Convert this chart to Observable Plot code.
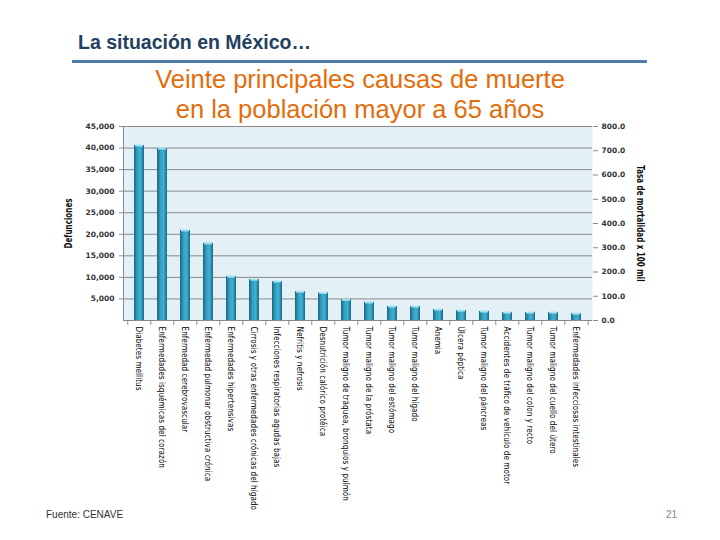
<!DOCTYPE html>
<html>
<head>
<meta charset="utf-8">
<script src="https://cdn.jsdelivr.net/npm/d3@7"></script>
<script src="https://cdn.jsdelivr.net/npm/@observablehq/plot@0.6"></script>
<style>
  body { margin: 0; background: #fff; width: 720px; height: 540px; position: relative; overflow: hidden; font-family: "Liberation Sans", Arial, sans-serif; }
  #title { position: absolute; left: 78px; top: 31px; font-size: 19.5px; line-height: 22px; color: #243f60; font-weight: bold; }
  #rule { position: absolute; left: 72px; top: 60px; width: 575px; height: 3px; background: #4f7bab; }
  #subtitle { position: absolute; left: 0; width: 720px; top: 64px; text-align: center; font-size: 25.5px; line-height: 30px; color: #e46c0a; z-index: 2; }
  #chart { position: absolute; left: 0; top: 120px; }
  #source { position: absolute; left: 46px; top: 509px; font-size: 10px; color: #333; }
  #page { position: absolute; left: 666px; top: 509px; font-size: 10px; color: #888; }
</style>
</head>
<body>
<div id="title">La situación en México…</div>
<div id="rule"></div>
<div id="subtitle">Veinte principales causas de muerte<br>en la población mayor a 65 años</div>
<div id="chart"></div>
<div id="source">Fuente: CENAVE</div>
<div id="page">21</div>
<script>
const categories = [
  "Diabetes mellitus",
  "Enfermedades isquémicas del corazón",
  "Enfermedad cerebrovascular",
  "Enfermedad pulmonar obstructiva crónica",
  "Enfermedades hipertensivas",
  "Cirrosis y otras enfermedades crónicas del hígado",
  "Infecciones respiratorias agudas bajas",
  "Nefritis y nefrosis",
  "Desnutrición calórico protéica",
  "Tumor maligno de tráquea, bronquios y pulmón",
  "Tumor maligno de la próstata",
  "Tumor maligno del estómago",
  "Tumor maligno del hígado",
  "Anemia",
  "Úlcera péptica",
  "Tumor maligno del páncreas",
  "Accidentes de tráfico de vehículo de motor",
  "Tumor maligno del colon y recto",
  "Tumor maligno del cuello del útero",
  "Enfermedades infecciosas intestinales"
];
const deaths = [40600, 39900, 20900, 17900, 10200, 9500, 9050, 6700, 6400, 4800, 4200, 3250, 3250, 2550, 2300, 2100, 1850, 1850, 1850, 1600];
const leftTicks = [5000, 10000, 15000, 20000, 25000, 30000, 35000, 40000, 45000];
const rateTicks = [0, 100, 200, 300, 400, 500, 600, 700, 800];
const leftMax = 45000;
const rateMax = 800;
const yTitle = "Defunciones";
const y2Title = "Tasa de mortalidad x 100 mil";

const data = categories.map((c, i) => ({cause: c, deaths: deaths[i]}));

const W = 720, H = 392, ml = 123, mr = 128, mt = 6, mb = 192;
const step = (W - ml - mr) / categories.length;
const tickFont = "DejaVu Sans, Verdana, sans-serif";
const narrow = "Liberation Sans Narrow, DejaVu Sans Condensed, sans-serif";

const chart = Plot.plot({
  width: W, height: H,
  marginLeft: ml, marginRight: mr, marginTop: mt, marginBottom: mb,
  style: {background: "transparent", overflow: "visible"},
  x: {domain: categories, paddingInner: 0.57, paddingOuter: 0.285, axis: null},
  y: {domain: [0, leftMax], axis: null},
  marks: [
    Plot.frame({fill: "#e3f0f6", stroke: null}),
    Plot.ruleY(leftTicks, {stroke: "#8a8a8a", strokeWidth: 1}),
    Plot.barY(data, {x: "cause", y: "deaths", fill: "url(#barGrad)"}),
    Plot.tickY(data, {x: "cause", y: "deaths", stroke: "#a4e4f4", strokeWidth: 2, insetLeft: 1, insetRight: 1}),
    Plot.ruleY([0], {stroke: "#8a8a8a"}),
    Plot.frame({anchor: "left", stroke: "#8a8a8a"}),
    Plot.axisY(leftTicks, {anchor: "left", tickSize: 4, tickPadding: 5, tickFormat: d3.format(","), label: null,
      fontFamily: tickFont, fontSize: 7.5, fontWeight: "bold", fill: "#333", stroke: "#8a8a8a"}),
    Plot.axisY(rateTicks.map(v => v * leftMax / rateMax), {anchor: "right", tickSize: 5, tickPadding: 4,
      tickFormat: d => (d * rateMax / leftMax).toFixed(1), label: null,
      fontFamily: tickFont, fontSize: 7.5, fontWeight: "bold", fill: "#333", stroke: "#8a8a8a"}),
    Plot.axisX({anchor: "bottom", tickSize: 0, tickRotate: 90, tickPadding: 6, label: null,
      fontFamily: narrow, fontSize: 9.5, fill: "#000"}),
    Plot.axisX({anchor: "bottom", tickSize: 5, tickFormat: () => "", dx: -step / 2, label: null, stroke: "#8a8a8a"}),
    Plot.axisX([categories[categories.length - 1]], {anchor: "bottom", tickSize: 5, tickFormat: () => "", dx: step / 2, label: null, stroke: "#8a8a8a"}),
    Plot.text([yTitle], {frameAnchor: "left", rotate: -90, dx: -55, textAnchor: "middle", fontFamily: narrow, fontSize: 10.5, fontWeight: "bold", fill: "#111"}),
    Plot.text([y2Title], {frameAnchor: "right", rotate: 90, dx: 48, textAnchor: "middle", fontFamily: narrow, fontSize: 10.5, fontWeight: "bold", fill: "#111"})
  ]
});

const ns = "http://www.w3.org/2000/svg";
const defs = document.createElementNS(ns, "defs");
const grad = document.createElementNS(ns, "linearGradient");
grad.setAttribute("id", "barGrad");
grad.setAttribute("x1", "0"); grad.setAttribute("x2", "1");
grad.setAttribute("y1", "0"); grad.setAttribute("y2", "0");
[["0", "#1a6580"], ["0.35", "#35a0c2"], ["0.65", "#40b0d2"], ["1", "#1b6884"]].forEach(([o, c]) => {
  const s = document.createElementNS(ns, "stop");
  s.setAttribute("offset", o); s.setAttribute("stop-color", c);
  grad.appendChild(s);
});
defs.appendChild(grad);
chart.insertBefore(defs, chart.firstChild);

// condense rotated texts along their reading direction
function condense(texts, sx) {
  texts.forEach(t => {
    const tr = t.getAttribute("transform");
    if (tr) t.setAttribute("transform", tr + ` scale(${sx},1)`);
  });
}
const catSet = new Set(categories);
const allTexts = Array.from(chart.querySelectorAll("text"));
condense(allTexts.filter(t => catSet.has(t.textContent)), 0.86);
condense(allTexts.filter(t => t.textContent === yTitle || t.textContent === y2Title), 0.76);

document.getElementById("chart").appendChild(chart);
</script>
</body>
</html>
